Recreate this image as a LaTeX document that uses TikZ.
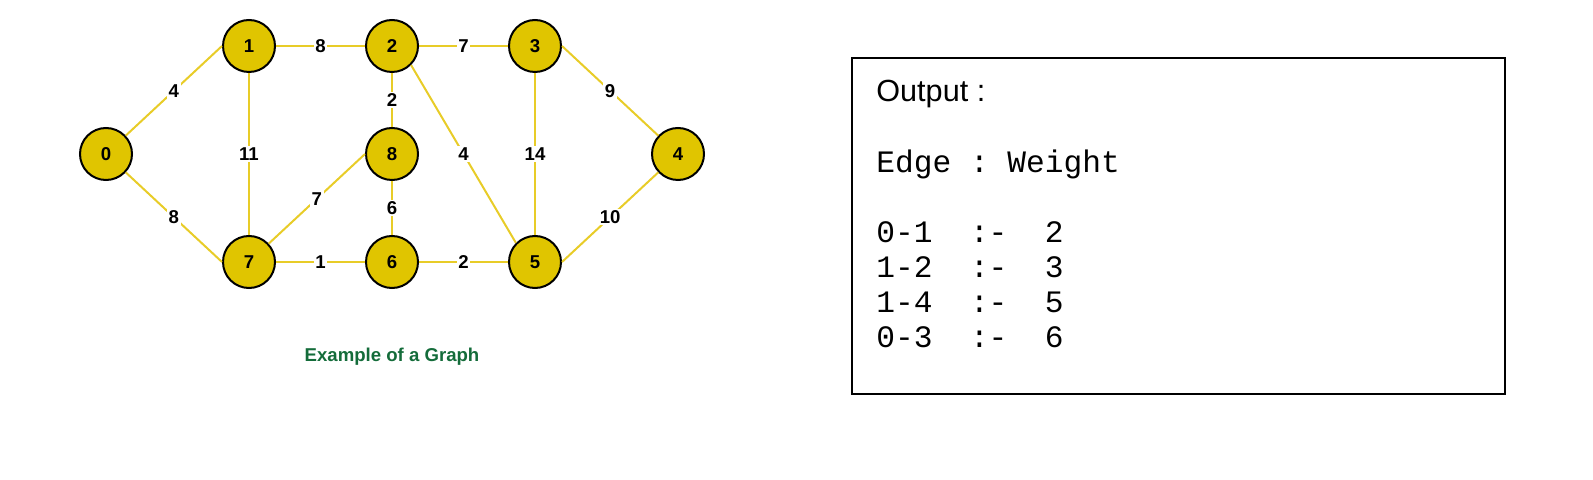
\documentclass[tikz,border=0pt]{standalone}
\usepackage{fontspec}
\setmainfont{Liberation Sans}
\setmonofont{Liberation Mono}
\usepackage{tikz}
\usetikzlibrary{calc}
\definecolor{nodeyellow}{RGB}{224,197,0}
\definecolor{linkyellow}{RGB}{232,204,40}
\definecolor{captiongreen}{RGB}{20,108,58}
\tikzset{
  vertex/.style={circle, draw=black, fill=nodeyellow, line width=1pt, minimum size=26pt, inner sep=0pt, font=\bfseries\fontsize{9.3}{11}\selectfont},
  link/.style={draw=linkyellow, line width=1pt},
  weight/.style={fill=white, inner sep=0.8pt, font=\bfseries\fontsize{9.3}{11}\selectfont},
  caption/.style={text=captiongreen, font=\bfseries\fontsize{9.3}{11}\selectfont},
  outbox/.style={draw=black, line width=1pt},
  heading/.style={anchor=base west, inner sep=0pt, font=\fontsize{15.3}{18}\selectfont},
  mono/.style={anchor=base west, inner sep=0pt, font=\ttfamily\fontsize{15.6}{18}\selectfont}
}

\begin{document}
\begin{tikzpicture}[x=0.5pt, y=-0.5pt]
  \useasboundingbox (0,0) rectangle (1593,480);
  % vertices
  \node[vertex] (n0) at (106,154) {0};
  \node[vertex] (n1) at (249,46) {1};
  \node[vertex] (n2) at (392,46) {2};
  \node[vertex] (n3) at (535,46) {3};
  \node[vertex] (n4) at (678,154) {4};
  \node[vertex] (n5) at (535,262) {5};
  \node[vertex] (n6) at (392,262) {6};
  \node[vertex] (n7) at (249,262) {7};
  \node[vertex] (n8) at (392,154) {8};
  % weighted edges
  \draw[link] (n0) -- node[weight] {4} (n1.west);
  \draw[link] (n0) -- node[weight] {8} (n7.west);
  \draw[link] (n1) -- node[weight] {8} (n2);
  \draw[link] (n2) -- node[weight] {7} (n3);
  \draw[link] (n3.east) -- node[weight] {9} (n4);
  \draw[link] (n4) -- node[weight] {10} (n5.east);
  \draw[link] (n1) -- node[weight] {11} (n7);
  \draw[link] (n2) -- node[weight] {2} (n8);
  \draw[link] (n8) -- node[weight] {6} (n6);
  \draw[link] (n8.west) -- node[weight] {7} (n7);
  \draw[link] (n2.south east) -- node[weight] {4} (n5.north west);
  \draw[link] (n3) -- node[weight] {14} (n5);
  \draw[link] (n7) -- node[weight] {1} (n6);
  \draw[link] (n6) -- node[weight] {2} (n5);
  \node[caption] (cap) at (392,357) {Example of a Graph};
  % output panel
  \draw[outbox] (852,58) rectangle (1505,394);
  \node[heading] (out) at (876,102) {Output :};
  \node[mono] (hdr) at (876,173) {Edge : Weight};
  \foreach \e/\w [count=\i] in {0-1/2,1-2/3,1-4/5,0-3/6}
    \node[mono] (row\i) at (876,208+35*\i) {\e\ \ :-\ \ \w};
\end{tikzpicture}
\end{document}
